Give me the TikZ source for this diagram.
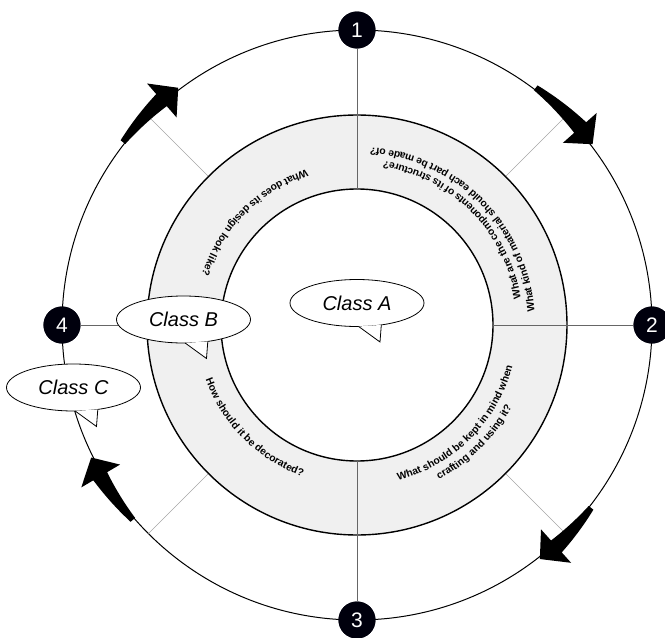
\documentclass[tikz,border=0pt]{standalone}
\usepackage{fontspec}
\setmainfont{Liberation Sans}
\usetikzlibrary{shapes.geometric,decorations.text,positioning}

\newcommand{\ringfont}{\fontsize{10.3}{12}\selectfont\bfseries}
% curved block arrow on the outer circle: tail angle, head base angle, tip angle
\newcommand{\flowarrow}[3]{%
  \fill[black] plot[domain=#1:#2, samples=24, variable=\a] ({\a}:{300+6*(\a-#1)/(#2-#1)})
    -- ({#2}:{320}) -- ({#3}:{297}) -- ({#2}:{275})
    -- plot[domain=#2:#1, samples=24, variable=\a] ({\a}:{294-4*(\a-#1)/(#2-#1)}) -- cycle;}
% tail of a speech bubble
\newcommand{\bubbletail}[1]{%
  \fill[white] (#1.-86) -- ([shift={(23,-39)}]#1.center) -- (#1.-42) -- cycle;
  \draw[line width=0.8pt, line join=miter] (#1.-86) -- ([shift={(23,-39)}]#1.center) -- (#1.-42);}

\tikzset{
  numdot/.style={circle, fill=black!95!blue, text=white, minimum size=37pt, inner sep=0pt,
    font=\fontsize{21}{22}\selectfont},
  bubble/.style={ellipse, draw, fill=white, minimum width=134pt, minimum height=47pt,
    inner sep=0pt, outer sep=0pt, line width=0.8pt, font=\fontsize{20}{22}\selectfont\itshape},
  spoke/.style={draw=black!60, line width=0.8pt},
  diag/.style={draw=black!35, line width=0.7pt},
  ringedge/.style={draw=black, line width=1.4pt},
  ringtext/.style={decorate, decoration={text along path, text align=center, text={|\ringfont|#1}}}
}

\begin{document}
\begin{tikzpicture}[x=1pt, y=1pt]
    \useasboundingbox (-357,-313) rectangle (308,325);
    % Outer cycle
    \draw[line width=1pt] (0,0) circle[radius=295];
    \foreach \ang in {45,135,225,315}
        \draw[diag] (\ang:210) -- (\ang:295);
    % Grey ring
    \fill[black!6, even odd rule] (0,0) circle[radius=210] (0,0) circle[radius=136];
    \draw[ringedge] (0,0) circle[radius=210];
    \draw[ringedge] (0,0) circle[radius=136];
    % Spokes
    \coordinate (in1) at (90:136);
    \coordinate (in2) at (0:136);
    \coordinate (in3) at (270:136);
    \coordinate (in4) at (180:136);
    \node[numdot] (n1) at (90:295) {1};
    \node[numdot] (n2) at (0:295) {2};
    \node[numdot] (n3) at (270:295) {3};
    \node[numdot] (n4) at (180:295) {4};
    \foreach \k in {1,2,3,4}
        \draw[spoke] (in\k) -- (n\k);
    \foreach \k in {1,2,3,4}
        \node[numdot] at (n\k) {\k};
    % Questions along the ring
    \path[ringtext={What are the components of its structure?}] (-15:166) arc[start angle=-15, end angle=105, radius=166];
    \path[ringtext={What kind of material should each part be made of?}] (-15:178) arc[start angle=-15, end angle=105, radius=178];
    \path[ringtext={What does its design look like?}] (75:163) arc[start angle=75, end angle=195, radius=163];
    \path[ringtext={How should it be decorated?}] (165:161) arc[start angle=165, end angle=285, radius=161];
    \path[ringtext={What should be kept in mind when}] (255:161) arc[start angle=255, end angle=375, radius=161];
    \path[ringtext={crafting and using it?}] (255:175) arc[start angle=255, end angle=375, radius=175];
    % Clockwise arrows
    \flowarrow{53}{41.5}{37.5}
    \flowarrow{-38}{-48}{-52}
    \flowarrow{221}{210.5}{206.5}
    \flowarrow{142}{131}{127}
    % Speech bubbles
    \node[bubble] (clsA) at (0,22) {Class A};
    \bubbletail{clsA}
    \node[bubble] (clsB) at (-173.5,5.5) {Class B};
    \bubbletail{clsB}
    \node[bubble] (clsC) at (-283.5,-62.5) {Class C};
    \bubbletail{clsC}
\end{tikzpicture}
\end{document}
